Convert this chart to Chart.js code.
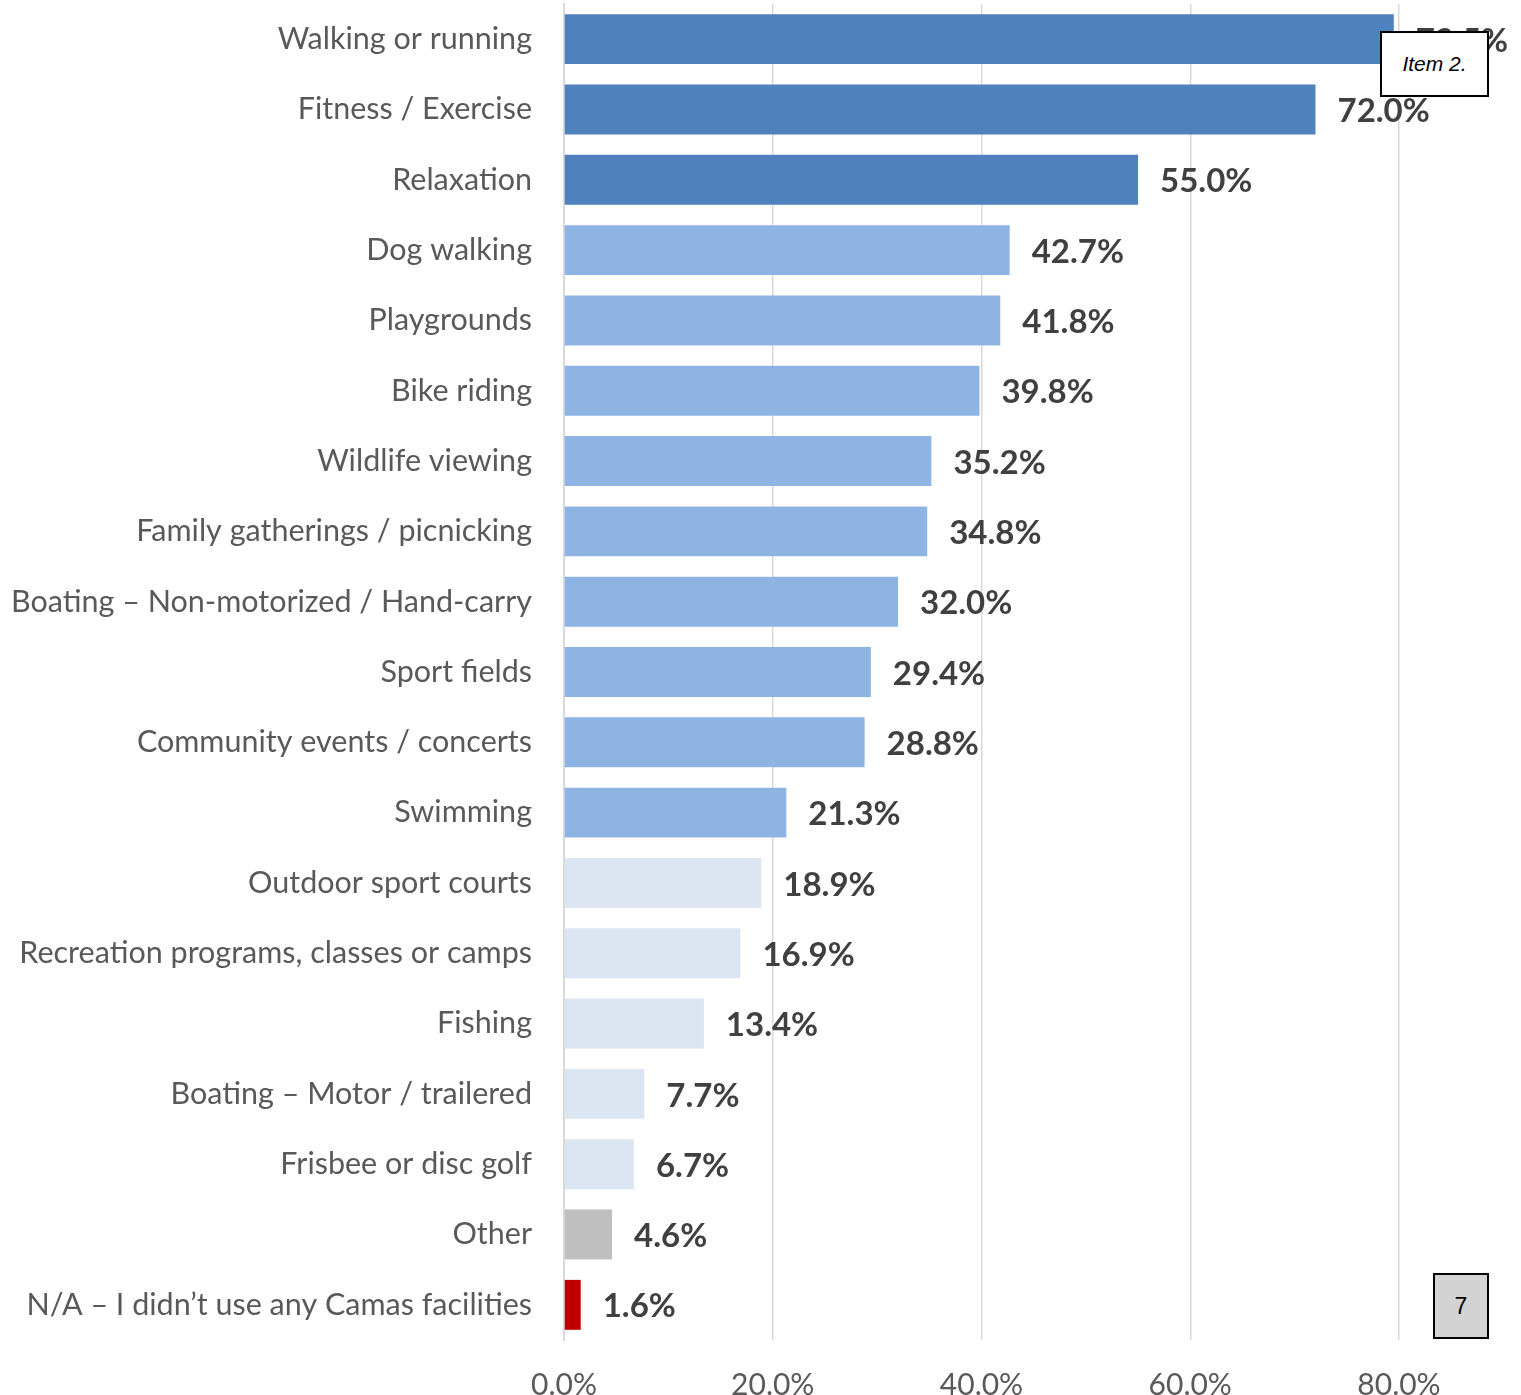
<!DOCTYPE html>
<html>
<head>
<meta charset="utf-8">
<script src="https://cdn.jsdelivr.net/npm/chart.js@4"></script>
<style>
  html, body { margin: 0; padding: 0; background: #fff; }
  #wrap { position: relative; width: 1521px; height: 1395px; }
  .note {
    position: absolute; border: 2px solid #000; box-sizing: border-box;
    font-family: "Liberation Sans", Arial, sans-serif; color: #000;
    display: flex; align-items: center; justify-content: center;
  }
</style>
</head>
<body>
<div id="wrap">
  <canvas id="activitiesChart" width="1521" height="1395"></canvas>
  <div class="note" style="left:1380px; top:31px; width:109px; height:66px; background:#fff; font-style:italic; font-size:21px;">Item 2.</div>
  <div class="note" style="left:1433px; top:1273px; width:56px; height:66px; background:#d3d3d3; font-size:23px;">7</div>
</div>
<script>
const categories = [
  'Walking or running', 'Fitness / Exercise', 'Relaxation', 'Dog walking',
  'Playgrounds', 'Bike riding', 'Wildlife viewing', 'Family gatherings / picnicking',
  'Boating \u2013 Non-motorized / Hand-carry', 'Sport fields', 'Community events / concerts',
  'Swimming', 'Outdoor sport courts', 'Recreation programs, classes or camps',
  'Fishing', 'Boating \u2013 Motor / trailered', 'Frisbee or disc golf', 'Other',
  'N/A \u2013 I didn\u2019t use any Camas facilities'
];
const percents = [79.5, 72.0, 55.0, 42.7, 41.8, 39.8, 35.2, 34.8, 32.0, 29.4, 28.8, 21.3, 18.9, 16.9, 13.4, 7.7, 6.7, 4.6, 1.6];
const barColors = [
  '#4f81bd', '#4f81bd', '#4f81bd',
  '#8eb4e3', '#8eb4e3', '#8eb4e3', '#8eb4e3', '#8eb4e3', '#8eb4e3', '#8eb4e3', '#8eb4e3', '#8eb4e3',
  '#dce6f2', '#dce6f2', '#dce6f2', '#dce6f2', '#dce6f2',
  '#bfbfbf', '#c00000'
];
const xTicks = [0, 20, 40, 60, 80];

// draws the bold value next to each bar end
const valueLabels = {
  id: 'valueLabels',
  afterDatasetsDraw(chart) {
    const ctx = chart.ctx;
    const meta = chart.getDatasetMeta(0);
    ctx.save();
    ctx.font = 'bold 33px Lato, sans-serif';
    ctx.fillStyle = '#404040';
    ctx.textBaseline = 'middle';
    meta.data.forEach((bar, i) => {
      ctx.fillText(percents[i].toFixed(1) + '%', bar.x + 22, bar.y + 2);
    });
    ctx.restore();
  }
};

new Chart(document.getElementById('activitiesChart'), {
  type: 'bar',
  data: {
    labels: categories,
    datasets: [{
      data: percents,
      backgroundColor: barColors,
      barPercentage: 1,
      categoryPercentage: 0.71
    }]
  },
  options: {
    indexAxis: 'y',
    responsive: false,
    animation: false,
    layout: { padding: { top: 4, right: 122, left: 0, bottom: 0 } },
    plugins: {
      legend: { display: false },
      tooltip: { enabled: false }
    },
    scales: {
      x: {
        min: 0,
        max: 80,
        afterBuildTicks(axis) { axis.ticks = xTicks.map(v => ({ value: v })); },
        afterFit(axis) { axis.height = 55; axis.paddingLeft = 0; axis.paddingRight = 0; },
        grid: { color: '#d9d9d9', lineWidth: 1.5, drawTicks: false },
        border: { display: false },
        ticks: {
          padding: 27,
          color: '#595959',
          font: { family: 'Lato, sans-serif', size: 30 },
          callback: (v) => v.toFixed(1) + '%'
        }
      },
      y: {
        afterFit(axis) { axis.width = 564; axis.paddingTop = 0; axis.paddingBottom = 0; },
        grid: { display: false, drawTicks: false },
        border: { color: '#d9d9d9', width: 2 },
        ticks: {
          padding: 32,
          color: '#595959',
          font: { family: 'Lato, sans-serif', size: 30.5 }
        }
      }
    }
  },
  plugins: [valueLabels]
});
</script>
</body>
</html>
